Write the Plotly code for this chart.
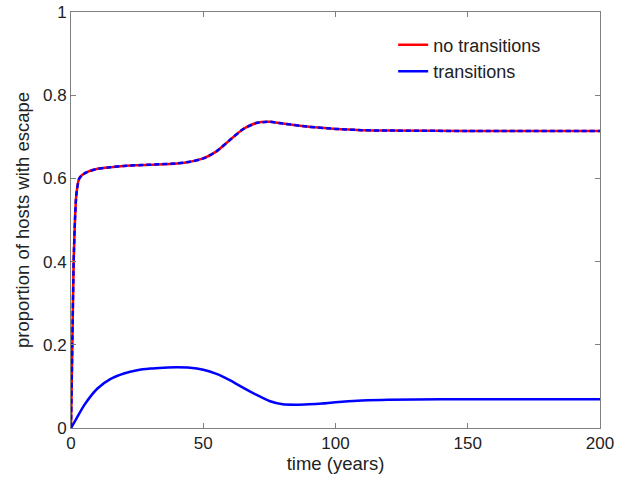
import plotly.graph_objects as go

# time points (years)
t_top = [0, 0.5, 1, 1.5, 2, 3, 4, 6, 10, 15, 20, 30, 40, 45, 50, 55, 60, 65, 70, 75, 80, 90, 100, 110, 120, 150, 200]
no_trans_top = [0, 0.2, 0.4, 0.5, 0.56, 0.598, 0.607, 0.615, 0.623, 0.627, 0.630, 0.633, 0.636, 0.640, 0.648, 0.665, 0.692, 0.718, 0.733, 0.736, 0.732, 0.724, 0.719, 0.716, 0.715, 0.714, 0.714]

t_bot = [0, 2, 5, 10, 15, 20, 25, 30, 35, 40, 45, 50, 55, 60, 65, 70, 75, 80, 85, 90, 95, 100, 110, 120, 140, 170, 200]
trans_bot = [0, 0.022, 0.055, 0.095, 0.118, 0.131, 0.139, 0.143, 0.145, 0.146, 0.145, 0.140, 0.130, 0.115, 0.097, 0.080, 0.065, 0.057, 0.056, 0.057, 0.059, 0.062, 0.066, 0.068, 0.069, 0.069, 0.069]

x_ticks = [0, 50, 100, 150, 200]
y_ticks = [0, 0.2, 0.4, 0.6, 0.8, 1]
y_tick_labels = ["0", "0.2", "0.4", "0.6", "0.8", "1"]

RED = "#ff0000"
BLUE = "#0000ff"
FONT = "Liberation Sans, Arial"

fig = go.Figure()
fig.add_trace(go.Scatter(x=t_top, y=no_trans_top, mode="lines", name="no transitions",
                         line=dict(color=RED, width=2.5, shape="spline", smoothing=0.6)))
fig.add_trace(go.Scatter(x=t_bot, y=trans_bot, mode="lines", name="transitions",
                         line=dict(color=BLUE, width=2.5, shape="spline", smoothing=0.6)))
fig.add_trace(go.Scatter(x=t_top, y=no_trans_top, mode="lines", showlegend=False,
                         line=dict(color=BLUE, width=2.5, dash="5px,3px", shape="spline", smoothing=0.6)))

axis_common = dict(showline=True, linecolor="#808080", linewidth=1, mirror="ticks",
                   ticks="inside", ticklen=5, tickcolor="#808080", showgrid=False, zeroline=False,
                   automargin=False, ticklabeloverflow="allow",
                   tickfont=dict(family=FONT, size=17, color="#222"))

fig.update_layout(
    width=618, height=479,
    margin=dict(l=71, r=18, t=12, b=51),
    paper_bgcolor="white", plot_bgcolor="white",
    font=dict(family=FONT, size=17, color="#222"),
    legend=dict(x=0.609, y=0.965, xanchor="left", yanchor="top", bgcolor="rgba(0,0,0,0)",
                font=dict(size=18), tracegroupgap=0, itemwidth=30),
    xaxis=dict(range=[0, 200], tickvals=x_ticks,
               title=dict(text="time (years)", standoff=2, font=dict(size=18.5)), **axis_common),
    yaxis=dict(range=[0, 1], tickvals=y_ticks, ticktext=y_tick_labels,
               title=dict(text="proportion of hosts with escape", standoff=8, font=dict(size=18.5)), **axis_common),
)

fig.write_html("out.html", config={"displayModeBar": False},
               post_script="document.body.style.margin='0';")
